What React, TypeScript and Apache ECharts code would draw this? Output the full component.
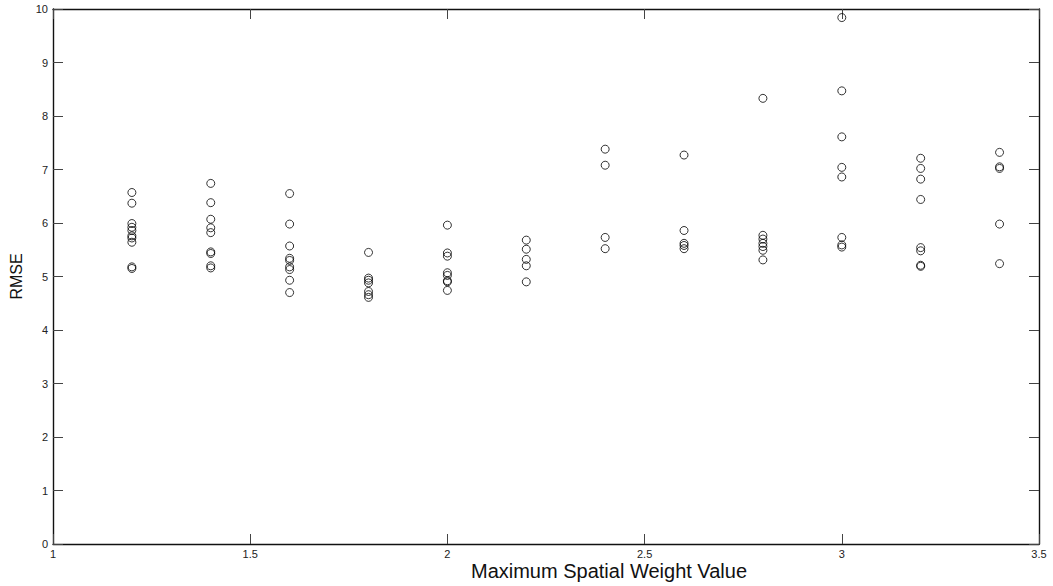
import React, { useEffect, useRef } from "react";
import * as echarts from "echarts";

// Maximum spatial weight values tested (x positions of each column of runs)
const weightValues = [1.2, 1.4, 1.6, 1.8, 2.0, 2.2, 2.4, 2.6, 2.8, 3.0, 3.2, 3.4];

// RMSE of each run, grouped by maximum spatial weight value
const rmseW12 = [6.57, 6.37, 5.99, 5.92, 5.86, 5.76, 5.72, 5.64, 5.18, 5.15];
const rmseW14 = [6.74, 6.38, 6.07, 5.91, 5.82, 5.46, 5.43, 5.2, 5.16];
const rmseW16 = [6.55, 5.98, 5.57, 5.34, 5.3, 5.18, 5.13, 4.93, 4.7];
const rmseW18 = [5.45, 4.97, 4.93, 4.88, 4.72, 4.66, 4.61];
const rmseW20 = [5.96, 5.44, 5.38, 5.07, 5.02, 4.92, 4.9, 4.74];
const rmseW22 = [5.68, 5.51, 5.32, 5.2, 4.9];
const rmseW24 = [7.38, 7.08, 5.73, 5.52];
const rmseW26 = [7.27, 5.86, 5.62, 5.58, 5.52];
const rmseW28 = [8.33, 5.77, 5.7, 5.62, 5.56, 5.49, 5.31];
const rmseW30 = [9.84, 8.47, 7.61, 7.04, 6.86, 5.73, 5.59, 5.55];
const rmseW32 = [7.21, 7.02, 6.82, 6.44, 5.54, 5.48, 5.21, 5.19];
const rmseW34 = [7.32, 7.05, 7.02, 5.98, 5.24];

const rmseGroups = [
  rmseW12, rmseW14, rmseW16, rmseW18, rmseW20, rmseW22,
  rmseW24, rmseW26, rmseW28, rmseW30, rmseW32, rmseW34,
];

const xTickLabels = ["1", "1.5", "2", "2.5", "3", "3.5"];
const xTitle = "Maximum Spatial Weight Value";
const yTitle = "RMSE";

export default function App() {
  const ref = useRef<HTMLDivElement>(null);

  useEffect(() => {
    if (!ref.current) return;
    const chart = echarts.init(ref.current, undefined, { renderer: "svg" });

    const points: number[][] = [];
    weightValues.forEach((w, i) => {
      rmseGroups[i].forEach((v) => points.push([w, v]));
    });

    const font = "'Liberation Sans', Arial, Helvetica, sans-serif";
    const tickStyle = { show: true, inside: true, length: 10, lineStyle: { color: "#444", width: 1 } };
    const lineStyle = { color: "#111", width: 1.4 };

    chart.setOption({
      animation: false,
      backgroundColor: "#fff",
      grid: { left: 50, right: 14, top: 9, bottom: 42, containLabel: false },
      xAxis: [
        {
          type: "value",
          position: "bottom",
          min: 1,
          max: 3.5,
          interval: 0.5,
          axisLine: { show: true, onZero: false, lineStyle },
          axisTick: tickStyle,
          splitLine: { show: false },
          axisLabel: {
            show: true,
            margin: 4,
            fontSize: 11,
            color: "#222",
            fontFamily: font,
            formatter: (v: number) => {
              const idx = Math.round((v - 1) / 0.5);
              return xTickLabels[idx] ?? String(v);
            },
          },
        },
        {
          type: "value",
          position: "top",
          min: 1,
          max: 3.5,
          interval: 0.5,
          axisLine: { show: true, onZero: false, lineStyle },
          axisTick: tickStyle,
          axisLabel: { show: false },
          splitLine: { show: false },
        },
      ],
      yAxis: [
        {
          type: "value",
          position: "left",
          min: 0,
          max: 10,
          interval: 1,
          name: yTitle,
          nameLocation: "middle",
          nameGap: 29,
          nameRotate: 90,
          nameTextStyle: { fontSize: 16, color: "#111", fontFamily: font },
          axisLine: { show: true, onZero: false, lineStyle },
          axisTick: tickStyle,
          splitLine: { show: false },
          axisLabel: { show: true, margin: 5, fontSize: 11, color: "#222", fontFamily: font },
        },
        {
          type: "value",
          position: "right",
          min: 0,
          max: 10,
          interval: 1,
          axisLine: { show: true, onZero: false, lineStyle },
          axisTick: tickStyle,
          axisLabel: { show: false },
          splitLine: { show: false },
        },
      ],
      graphic: [
        {
          type: "text",
          x: 609,
          y: 571,
          style: {
            text: xTitle,
            fontSize: 20,
            fontFamily: font,
            fill: "#111",
            textAlign: "center",
            textVerticalAlign: "middle",
          },
        },
      ],
      series: [
        {
          type: "scatter",
          xAxisIndex: 0,
          yAxisIndex: 0,
          data: points,
          symbol: "circle",
          symbolSize: 8,
          itemStyle: { color: "rgba(255,255,255,0)", borderColor: "#000", borderWidth: 1 },
        },
      ],
    });

    return () => chart.dispose();
  }, []);

  return (
    <div
      ref={ref}
      style={{ position: "fixed", left: 0, top: 0, width: 1053, height: 586, background: "#fff" }}
    />
  );
}
